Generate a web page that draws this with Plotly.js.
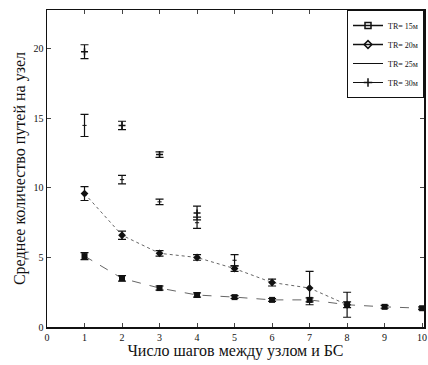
<!DOCTYPE html>
<html><head><meta charset="utf-8">
<script src="https://cdn.plot.ly/plotly-3.0.1.min.js"></script>
<style>html,body{margin:0;padding:0;background:#fff}#c{width:428px;height:365px}</style>
</head><body><div id="c"></div>
<script>
const hops15 = [1,2,3,4,5,6,7,8,9,10];
const tr15 = [5.1,3.5,2.8,2.3,2.15,1.95,1.95,1.6,1.45,1.35];
const tr15err = [0.25,0.2,0.15,0.15,0.1,0.1,0.15,0.2,0.1,0.1];
const hops20 = [1,2,3,4,5,6,7,8];
const tr20 = [9.6,6.6,5.3,5.0,4.2,3.2,2.8,1.6];
const tr20err = [0.5,0.3,0.2,0.2,0.2,0.25,1.2,0.9];
const hops25 = [1,2,3,4,5];
const tr25 = [14.5,10.6,9.0,7.5,4.8];
const tr25err = [0.8,0.3,0.2,0.4,0.4];
const hops30 = [1,2,3,4];
const tr30 = [19.8,14.5,12.4,8.2];
const tr30err = [0.5,0.3,0.2,0.5];
const names = ['TR= 15м','TR= 20м','TR= 25м','TR= 30м'];
const xTicks = [0,1,2,3,4,5,6,7,8,9,10];
const yTicks = [0,5,10,15,20];

const ebar = (a)=>({type:'data',array:a,visible:true,color:'#111',thickness:1.2,width:4});
const traces = [
 {x:hops15,y:tr15,error_y:ebar(tr15err),mode:'lines+markers',showlegend:false,
  line:{color:'#666',width:1,dash:'dash'},marker:{symbol:'square',size:6,color:'#111'}},
 {x:hops20,y:tr20,error_y:ebar(tr20err),mode:'lines+markers',showlegend:false,
  line:{color:'#666',width:1,dash:'dot'},marker:{symbol:'diamond',size:6,color:'#111'}},
 {x:hops25,y:tr25,error_y:ebar(tr25err),mode:'markers',showlegend:false,
  marker:{symbol:'line-ew-open',size:3,color:'#111',line:{width:1,color:'#111'}}},
 {x:hops30,y:tr30,error_y:ebar(tr30err),mode:'markers',showlegend:false,
  marker:{symbol:'cross-thin-open',size:5,color:'#111',line:{width:1.5,color:'#111'}}},
 {x:[null],y:[null],name:names[0],mode:'lines+markers',line:{color:'#111',width:1.5},
  marker:{symbol:'square-open',size:6,color:'#111',line:{width:1.5}}},
 {x:[null],y:[null],name:names[1],mode:'lines+markers',line:{color:'#111',width:1.5},
  marker:{symbol:'diamond-open',size:6,color:'#111',line:{width:1.5}}},
 {x:[null],y:[null],name:names[2],mode:'lines',line:{color:'#111',width:1}},
 {x:[null],y:[null],name:names[3],mode:'lines+markers',line:{color:'#111',width:1},
  marker:{symbol:'cross-thin-open',size:6,color:'#111',line:{width:1.5,color:'#111'}}}
];
const font = {family:'Liberation Serif, Times New Roman, serif',color:'#111'};
const layout = {
 width:428,height:365,margin:{l:47,r:4,t:10,b:38},
 paper_bgcolor:'#fff',plot_bgcolor:'#fff',font:Object.assign({size:10},font),
 xaxis:{range:[0,10.05],tickvals:xTicks,ticktext:xTicks.map(String),ticks:'inside',ticklen:4,
  mirror:'ticks',showline:true,linecolor:'#111',linewidth:1.5,showgrid:false,zeroline:false,
  tickfont:Object.assign({size:10},font),
  title:{text:'Число шагов между узлом и БС',font:Object.assign({size:16},font),standoff:2}},
 yaxis:{range:[0,22.8],tickvals:yTicks,ticktext:yTicks.map(String),ticks:'inside',ticklen:4,
  mirror:'ticks',showline:true,linecolor:'#111',linewidth:1.5,showgrid:false,zeroline:false,
  tickfont:Object.assign({size:10},font),
  title:{text:'Среднее количество путей на узел',font:Object.assign({size:16},font),standoff:4}},
 legend:{x:1,xanchor:'right',y:1,yanchor:'top',bgcolor:'#fff',bordercolor:'#111',borderwidth:1,
  font:Object.assign({size:8},font),tracegroupgap:0,itemwidth:30}
};
Plotly.newPlot('c',traces,layout,{displayModeBar:false,staticPlot:true});
</script></body></html>
